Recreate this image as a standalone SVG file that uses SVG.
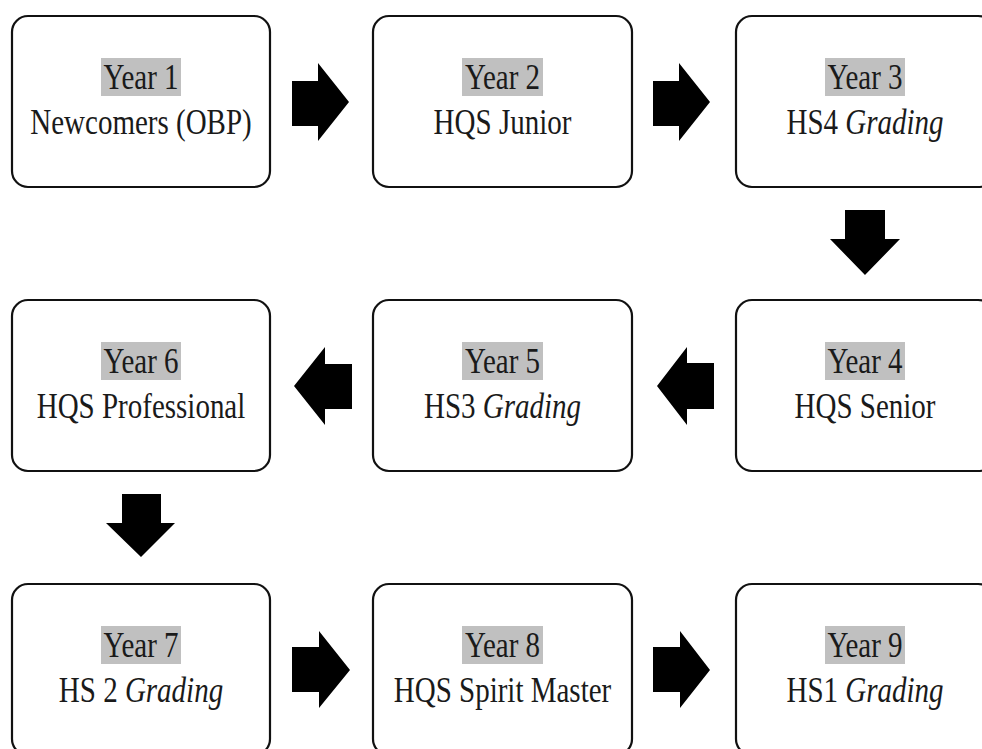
<svg xmlns="http://www.w3.org/2000/svg" width="982" height="749" viewBox="0 0 982 749">
<style>
.box{fill:#fff;stroke:#111;stroke-width:2.2}
.hl{fill:#c0c0c0}
.t{font-size:29px;fill:#1a1a1a;text-anchor:middle}
.i{font-style:italic}
.arr{fill:#000}
</style>
<rect width="982" height="749" fill="#fff"/>
<g id="connectors">
<path class="arr" d="M292,81 H318 V63 L349,102 L318,141 V126 H292 Z"/>
<path class="arr" d="M653,81 H679 V63 L710,102 L679,141 V126 H653 Z"/>
<path class="arr" d="M845,210 H885 V239 H900 L865,275 L830,239 H845 Z"/>
<path class="arr" d="M714,363 H687 V347 L657,386 L687,425 V409 H714 Z"/>
<path class="arr" d="M352,364 H325 V347 L294,386 L325,425 V409 H352 Z"/>
<path class="arr" d="M122,494 H161 V523 H175 L141,557 L106,523 H122 Z"/>
<path class="arr" d="M292,647 H319 V631 L350,670 L319,708 V692 H292 Z"/>
<path class="arr" d="M653,647 H680 V631 L710,670 L680,708 V692 H653 Z"/>
</g>
<g font-family="Liberation Serif, Times New Roman, serif">
<g id="n1"><rect class="box" x="12" y="16" width="258" height="171" rx="16"/><rect class="hl" x="101" y="58" width="80" height="38"/><text class="t" transform="translate(141,89) scale(1,1.23)">Year 1</text><text class="t" transform="translate(141,134) scale(1,1.23)">Newcomers (OBP)</text></g>
<g id="n2"><rect class="box" x="373" y="16" width="259" height="171" rx="16"/><rect class="hl" x="462" y="58" width="81" height="38"/><text class="t" transform="translate(502.5,89) scale(1,1.23)">Year 2</text><text class="t" transform="translate(502.5,134) scale(1,1.23)">HQS Junior</text></g>
<g id="n3"><rect class="box" x="736" y="16" width="258" height="171" rx="16"/><rect class="hl" x="825" y="58" width="80" height="38"/><text class="t" transform="translate(865,89) scale(1,1.23)">Year 3</text><text class="t" transform="translate(865,134) scale(1,1.23)">HS4 <tspan class="i">Grading</tspan></text></g>
<g id="n4"><rect class="box" x="736" y="300" width="258" height="171" rx="16"/><rect class="hl" x="825" y="342" width="80" height="38"/><text class="t" transform="translate(865,373) scale(1,1.23)">Year 4</text><text class="t" transform="translate(865,418) scale(1,1.23)">HQS Senior</text></g>
<g id="n5"><rect class="box" x="373" y="300" width="259" height="171" rx="16"/><rect class="hl" x="462" y="342" width="81" height="38"/><text class="t" transform="translate(502.5,373) scale(1,1.23)">Year 5</text><text class="t" transform="translate(502.5,418) scale(1,1.23)">HS3 <tspan class="i">Grading</tspan></text></g>
<g id="n6"><rect class="box" x="12" y="300" width="258" height="171" rx="16"/><rect class="hl" x="101" y="342" width="80" height="38"/><text class="t" transform="translate(141,373) scale(1,1.23)">Year 6</text><text class="t" transform="translate(141,418) scale(1,1.23)">HQS Professional</text></g>
<g id="n7"><rect class="box" x="12" y="584" width="258" height="171" rx="16"/><rect class="hl" x="101" y="626" width="80" height="38"/><text class="t" transform="translate(141,657) scale(1,1.23)">Year 7</text><text class="t" transform="translate(141,702) scale(1,1.23)">HS 2 <tspan class="i">Grading</tspan></text></g>
<g id="n8"><rect class="box" x="373" y="584" width="259" height="171" rx="16"/><rect class="hl" x="462" y="626" width="81" height="38"/><text class="t" transform="translate(502.5,657) scale(1,1.23)">Year 8</text><text class="t" transform="translate(502.5,702) scale(1,1.23)">HQS Spirit Master</text></g>
<g id="n9"><rect class="box" x="736" y="584" width="258" height="171" rx="16"/><rect class="hl" x="825" y="626" width="80" height="38"/><text class="t" transform="translate(865,657) scale(1,1.23)">Year 9</text><text class="t" transform="translate(865,702) scale(1,1.23)">HS1 <tspan class="i">Grading</tspan></text></g>
</g>
</svg>
